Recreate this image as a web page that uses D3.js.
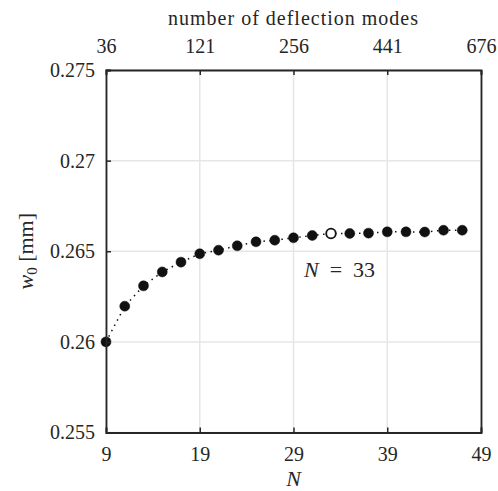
<!DOCTYPE html>
<html>
<head>
<meta charset="utf-8">
<script src="https://cdn.jsdelivr.net/npm/d3@7"></script>
<style>
  html, body { margin: 0; padding: 0; background: #fff; }
  svg text { font-family: "Liberation Serif", "DejaVu Serif", serif; fill: #262626; }
</style>
</head>
<body>
<svg id="chart" width="498" height="491"></svg>
<script>
// Resolution study: centre deflection w0 against the number of nodes N
const nValues = [9, 11, 13, 15, 17, 19, 21, 23, 25, 27, 29, 31, 33, 35, 37, 39, 41, 43, 45, 47];
const w0Values = [0.26000, 0.26197, 0.26309, 0.26386, 0.26440, 0.26486, 0.26506, 0.26530, 0.26552, 0.26561,
                  0.26574, 0.26587, 0.26598, 0.26598, 0.26600, 0.26607, 0.26607, 0.26606, 0.26616, 0.26616];
const highlightN = 33;

const xTicks = [9, 19, 29, 39, 49];
const yTicks = [0.255, 0.26, 0.265, 0.27, 0.275];
const yTickLabels = ["0.255", "0.26", "0.265", "0.27", "0.275"];
const topTickLabels = ["36", "121", "256", "441", "676"];

const svg = d3.select("#chart");
const margin = { left: 106, right: 17, top: 70, bottom: 58.5 };
const W = 498, H = 491;
const x = d3.scaleLinear().domain([9, 49]).range([margin.left, W - margin.right]);
const y = d3.scaleLinear().domain([0.255, 0.275]).range([H - margin.bottom, margin.top]);
const axisColor = "#262626";
const tickLen = 5;
const fontSize = 20;

// grid
const grid = svg.append("g");
grid.selectAll(".gx").data(xTicks).enter().append("line")
  .attr("x1", d => x(d)).attr("x2", d => x(d))
  .attr("y1", y.range()[0]).attr("y2", y.range()[1])
  .attr("stroke", "#e6e6e6").attr("stroke-width", 1.5);
grid.selectAll(".gy").data(yTicks).enter().append("line")
  .attr("y1", d => y(d)).attr("y2", d => y(d))
  .attr("x1", x.range()[0]).attr("x2", x.range()[1])
  .attr("stroke", "#e6e6e6").attr("stroke-width", 1.5);

// dotted connecting line
const pts = nValues.map((n, i) => [n, w0Values[i]]);
svg.append("path")
  .datum(pts)
  .attr("d", d3.line().x(d => x(d[0])).y(d => y(d[1])))
  .attr("fill", "none").attr("stroke", "#111")
  .attr("stroke-width", 1.5)
  .attr("stroke-dasharray", "1.5,4.5");

// markers
svg.selectAll(".pt").data(pts).enter().append("circle")
  .attr("cx", d => x(d[0])).attr("cy", d => y(d[1]))
  .attr("r", d => d[0] === highlightN ? 4.8 : 5)
  .attr("fill", d => d[0] === highlightN ? "#fff" : "#111")
  .attr("stroke", "#111")
  .attr("stroke-width", d => d[0] === highlightN ? 1.8 : 0.5);

// axes with inward ticks
const bottomAxis = d3.axisBottom(x).tickValues(xTicks).tickSize(-tickLen).tickPadding(14).tickFormat(d3.format("d"));
const topAxis = d3.axisTop(x).tickValues(xTicks).tickSize(-tickLen).tickPadding(17)
  .tickFormat((d, i) => topTickLabels[i]);
const leftAxis = d3.axisLeft(y).tickValues(yTicks).tickSize(-tickLen).tickPadding(11)
  .tickFormat((d, i) => yTickLabels[i]);
const rightAxis = d3.axisRight(y).tickValues([]).tickSizeOuter(0);

function styleAxis(g) {
  g.select(".domain").attr("stroke", axisColor).attr("stroke-width", 1.8);
  g.selectAll(".tick line").attr("stroke", axisColor).attr("stroke-width", 1.5);
  g.selectAll(".tick text").attr("font-size", fontSize).attr("fill", axisColor)
    .style("font-family", '"Liberation Serif", "DejaVu Serif", serif');
}

svg.append("g").attr("transform", `translate(0,${y.range()[0]})`).call(bottomAxis).call(styleAxis);
svg.append("g").attr("transform", `translate(0,${y.range()[1]})`).call(topAxis).call(styleAxis);
svg.append("g").attr("transform", `translate(${x.range()[0]},0)`).call(leftAxis).call(styleAxis);
svg.append("g").attr("transform", `translate(${x.range()[1]},0)`).call(rightAxis).call(styleAxis);

// axis titles
const midX = (x.range()[0] + x.range()[1]) / 2;
svg.append("text").attr("x", midX).attr("y", 486).attr("text-anchor", "middle")
  .attr("font-size", 22).attr("font-style", "italic").text("N");
svg.append("text").attr("x", midX).attr("y", 25).attr("text-anchor", "middle")
  .attr("font-size", fontSize).attr("letter-spacing", 1).text("number of deflection modes");
const yl = svg.append("text")
  .attr("transform", `translate(33,${(y.range()[0] + y.range()[1]) / 2}) rotate(-90)`)
  .attr("text-anchor", "middle").attr("font-size", 22);
yl.append("tspan").attr("font-style", "italic").text("w");
yl.append("tspan").attr("font-size", 15).attr("dy", 4).text("0");
yl.append("tspan").attr("dy", -4).text(" [mm]");

// annotation for the chosen resolution
const ann = svg.append("text").attr("x", x(highlightN) - 27).attr("y", 277).attr("font-size", 22);
ann.append("tspan").attr("font-style", "italic").text("N");
ann.append("tspan").text("\u2002=\u2002" + highlightN);
</script>
</body>
</html>
